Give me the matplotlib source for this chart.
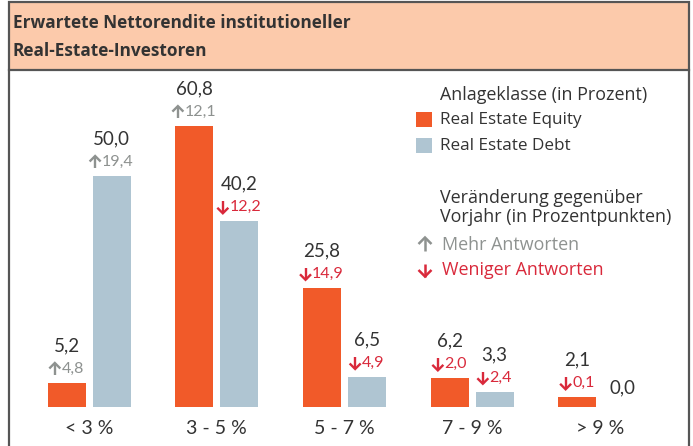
import numpy as np
import matplotlib
matplotlib.use("Agg")
import matplotlib.pyplot as plt
from matplotlib.patches import Rectangle
from matplotlib.lines import Line2D
from matplotlib.transforms import IdentityTransform

# Colours
EQUITY_COLOR = "#F15A29"
DEBT_COLOR = "#AFC5D2"
HEADER_COLOR = "#FCCAAB"
BORDER_COLOR = "#555555"
TEXT_COLOR = "#333333"
UP_COLOR = "#8E9290"
DOWN_COLOR = "#D9293B"

FONT = ["Lato", "DejaVu Sans"]
HEAD_FONT = ["Open Sans", "DejaVu Sans"]

# Data
categories = ["< 3 %", "3 - 5 %", "5 - 7 %", "7 - 9 %", "> 9 %"]
equity = [5.2, 60.8, 25.8, 6.2, 2.1]
debt = [50.0, 40.2, 6.5, 3.3, 0.0]
equity_change = [4.8, 12.1, -14.9, -2.0, -0.1]
debt_change = [19.4, -12.2, -4.9, -2.4, None]

W, H = 693, 446


def fx(px):
    return px / W


def fy(py):
    return 1 - py / H


def fmt(v):
    return f"{v:.1f}".replace(".", ",")


def draw_arrow(fig, cx, cy, w, h, up, color, lw=1.4):
    # cx, cy in display pixels (origin bottom left)
    s = 1 if up else -1
    tip = cy + s * h / 2
    tail = cy - s * h / 2
    head = tip - s * w / 2
    fig.add_artist(Line2D([cx, cx], [tail, tip], transform=IdentityTransform(),
                          color=color, linewidth=lw, solid_capstyle="butt"))
    fig.add_artist(Line2D([cx - w / 2, cx, cx + w / 2], [head, tip, head],
                          transform=IdentityTransform(), color=color, linewidth=lw,
                          solid_joinstyle="miter", solid_capstyle="butt"))


fig = plt.figure(figsize=(W / 100, H / 100), dpi=100, facecolor="white")

# header band and frame
fig.patches.append(Rectangle((fx(9), fy(70)), fx(680), 68 / H, transform=fig.transFigure,
                             facecolor=HEADER_COLOR, edgecolor=BORDER_COLOR, linewidth=1.6))
fig.lines.append(Line2D([fx(9), fx(9)], [fy(70), 0], transform=fig.transFigure,
                        color=BORDER_COLOR, linewidth=1.6))
fig.lines.append(Line2D([fx(689), fx(689)], [fy(70), 0], transform=fig.transFigure,
                        color=BORDER_COLOR, linewidth=1.6))

fig.text(fx(13), fy(23), "Erwartete Nettorendite institutioneller", family=HEAD_FONT,
         fontsize=12.4, fontweight="bold", color=TEXT_COLOR, va="center", ha="left")
fig.text(fx(13), fy(51), "Real-Estate-Investoren", family=HEAD_FONT,
         fontsize=12.4, fontweight="bold", color=TEXT_COLOR, va="center", ha="left")

# bar axes: baseline at y=407 px, 4.62 px per percent
y_top = 70
ax = fig.add_axes([fx(9), 1 - 407 / H, fx(680), (y_top * 4.62) / H])
ax.set_ylim(0, y_top)
# group spacing ~127.7 px, first group centre at ~89 px
step = 127.7
x0 = 89
ax.set_xlim(-(x0 - 9) / step, 4 + (689 - (x0 + 4 * step)) / step)
ax.axis("off")

x = np.arange(len(categories))
bw = 38 / step
off = 22.5 / step

ax.bar(x - off, equity, width=bw, color=EQUITY_COLOR)
ax.bar(x + off, debt, width=bw, color=DEBT_COLOR)

renderer = fig.canvas.get_renderer()
for xs, vals, changes in [(x - off, equity, equity_change), (x + off, debt, debt_change)]:
    for xi, v, c in zip(xs, vals, changes):
        if c is None:
            ax.annotate(fmt(v), (xi, v), xytext=(0, 19), textcoords="offset pixels",
                        ha="center", va="center", fontsize=13.5, color=TEXT_COLOR, family=FONT)
            continue
        ax.annotate(fmt(v), (xi, v), xytext=(0, 37), textcoords="offset pixels",
                    ha="center", va="center", fontsize=13.5, color=TEXT_COLOR, family=FONT)
        col = UP_COLOR if c >= 0 else DOWN_COLOR
        num = ax.annotate(fmt(abs(c)), (xi, v), xytext=(6, 14), textcoords="offset pixels",
                          ha="center", va="center", fontsize=11.5, color=col, family=FONT)
        bb = num.get_window_extent(renderer)
        px, py = ax.transData.transform((xi, v))
        draw_arrow(fig, bb.x0 - 6.5, py + 14, 11, 12, c >= 0, col, lw=1.7)

for xi, lab in zip(x, categories):
    ax.annotate(lab, (xi, 0), xytext=(0, -21), textcoords="offset pixels",
                ha="center", va="center", fontsize=14, color=TEXT_COLOR, family=FONT)

# legend
LEG = 12.9
fig.text(fx(440), fy(95), "Anlageklasse (in Prozent)", family=HEAD_FONT, fontsize=LEG,
         color=TEXT_COLOR, va="center", ha="left")
fig.patches.append(Rectangle((fx(416), fy(127)), fx(16), 15 / H, transform=fig.transFigure,
                             facecolor=EQUITY_COLOR, edgecolor="none"))
fig.text(fx(440), fy(120), "Real Estate Equity", family=HEAD_FONT, fontsize=12.3,
         color=TEXT_COLOR, va="center", ha="left")
fig.patches.append(Rectangle((fx(416), fy(153)), fx(16), 15 / H, transform=fig.transFigure,
                             facecolor=DEBT_COLOR, edgecolor="none"))
fig.text(fx(440), fy(146), "Real Estate Debt", family=HEAD_FONT, fontsize=12.3,
         color=TEXT_COLOR, va="center", ha="left")

fig.text(fx(440), fy(198), "Veränderung gegenüber", family=HEAD_FONT, fontsize=LEG,
         color=TEXT_COLOR, va="center", ha="left")
fig.text(fx(440), fy(217), "Vorjahr (in Prozentpunkten)", family=HEAD_FONT, fontsize=LEG,
         color=TEXT_COLOR, va="center", ha="left")
draw_arrow(fig, 425, H - 244, 13, 13, True, UP_COLOR, lw=1.8)
fig.text(fx(442), fy(245), "Mehr Antworten", family=HEAD_FONT, fontsize=LEG,
         color=UP_COLOR, va="center", ha="left")
draw_arrow(fig, 425, H - 270, 13, 13, False, DOWN_COLOR, lw=1.8)
fig.text(fx(442), fy(270), "Weniger Antworten", family=HEAD_FONT, fontsize=LEG,
         color=DOWN_COLOR, va="center", ha="left")

fig.savefig("out.png", dpi=100, facecolor="white")
